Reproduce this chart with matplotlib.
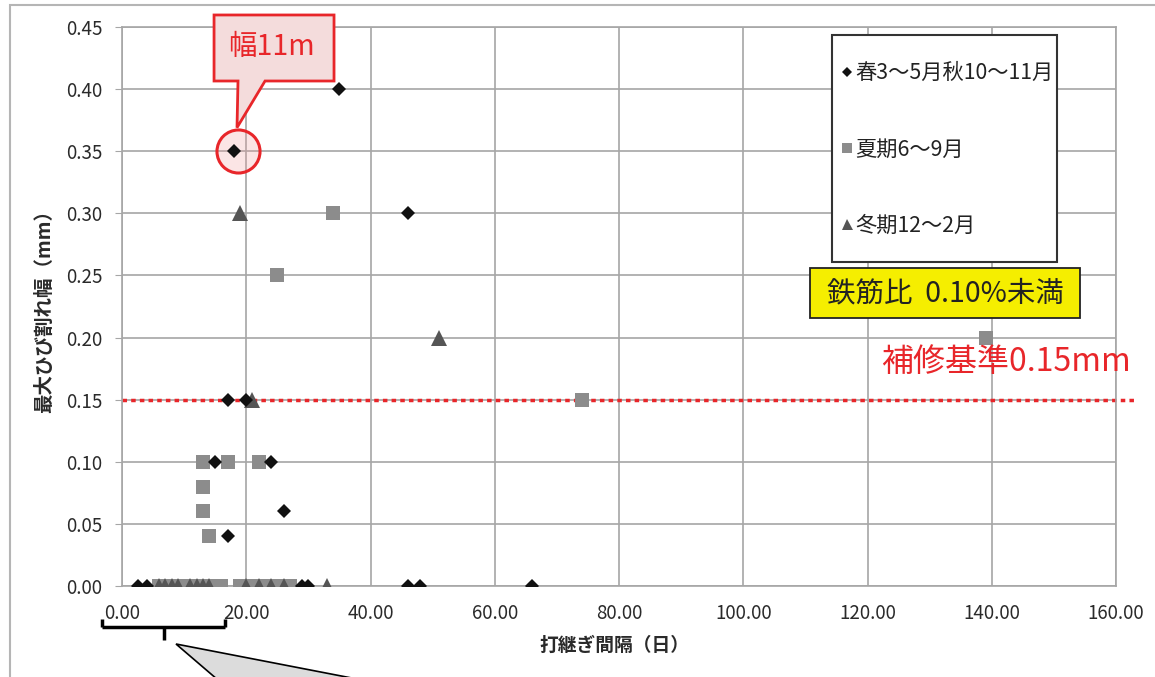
import numpy as np
import matplotlib
matplotlib.use("Agg")
import matplotlib.pyplot as plt
from matplotlib.patches import Rectangle, Polygon
from matplotlib.lines import Line2D

plt.rcParams['font.family'] = ['Noto Sans CJK JP', 'DejaVu Sans']

# 春3〜5月 秋10〜11月
spring_x = [35, 18, 46, 17, 20, 15, 24, 26, 17, 2.5, 4, 29, 30, 46, 48, 66]
spring_y = [0.40, 0.35, 0.30, 0.15, 0.15, 0.10, 0.10, 0.06, 0.04, 0, 0, 0, 0, 0, 0, 0]
# 夏期6〜9月
summer_x = [34, 25, 139, 74, 13, 17, 22, 13, 13, 14, 6, 8, 10, 12, 14, 16, 19, 21, 23, 25, 27]
summer_y = [0.30, 0.25, 0.20, 0.15, 0.10, 0.10, 0.10, 0.08, 0.06, 0.04, 0, 0, 0, 0, 0, 0, 0, 0, 0, 0, 0]
# 冬期12〜2月
winter_x = [19, 51, 21, 6, 7, 8, 9, 11, 12, 13, 14, 20, 22, 24, 26, 33]
winter_y = [0.30, 0.20, 0.15, 0, 0, 0, 0, 0, 0, 0, 0, 0, 0, 0, 0, 0]

labels = ['春3〜5月秋10〜11月', '夏期6〜9月', '冬期12〜2月']
x_ticks = [0, 20, 40, 60, 80, 100, 120, 140, 160]
y_ticks = [0, 0.05, 0.10, 0.15, 0.20, 0.25, 0.30, 0.35, 0.40, 0.45]
threshold = 0.15
highlight = 1  # index in spring series (幅11m)

W, H = 1155, 677
fig = plt.figure(figsize=(W / 100, H / 100), dpi=100)
ax = fig.add_axes([122 / W, 1 - 586 / H, (1116 - 122) / W, (586 - 27) / H])

grid_c = '#a6a6a6'
ax.set_xlim(0, 160)
ax.set_ylim(0, 0.45)
ax.set_xticks(x_ticks)
ax.set_yticks(y_ticks)
ax.set_xticklabels([f'{v:.2f}' for v in x_ticks])
ax.set_yticklabels([f'{v:.2f}' for v in y_ticks])
ax.grid(True, color=grid_c, lw=1.2)
ax.set_axisbelow(True)
for s in ax.spines.values():
    s.set_color(grid_c)
    s.set_linewidth(1.2)
ax.tick_params(axis='x', length=0, pad=12, labelsize=13.5)
ax.tick_params(axis='y', length=5, color=grid_c, pad=9, labelsize=13.5)
for t in ax.get_xticklabels() + ax.get_yticklabels():
    t.set_color('#2a2a2a')

# threshold line
ax.axhline(threshold, xmin=0, xmax=1.018, color='#e8262a', lw=2.5,
           linestyle=(0, (1.3, 1.2)), clip_on=False, zorder=2)

ax.plot(summer_x, summer_y, 's', color='#8c8c8c', ms=10.5, mew=0, ls='none', zorder=3, label=labels[1])
ax.plot(winter_x, winter_y, '^', color='#555555', ms=11, mew=0, ls='none', zorder=4, label=labels[2])
ax.plot(spring_x, spring_y, 'D', color='#111111', ms=7.5, mew=0, ls='none', zorder=6, label=labels[0])

ax.text(0.889, 0.401, '補修基準0.15mm', transform=ax.transAxes, color='#e8262a',
        fontsize=23, ha='center', va='center')

# highlight circle
ax.plot(spring_x[highlight] + 0.6, spring_y[highlight], 'o', ms=31, mfc=(0.95, 0.6, 0.6, 0.25),
        mec='#e8262a', mew=2.2, zorder=5)

# callout box
call = Polygon([(0.0926, 1.0215), (0.2133, 1.0215), (0.2133, 0.9034), (0.1439, 0.9034),
                (0.1157, 0.820), (0.1167, 0.9034), (0.0926, 0.9034)],
               closed=True, transform=ax.transAxes, fc='#f4dcdc', ec='#e8262a', lw=2,
               clip_on=False, zorder=7)
ax.add_patch(call)
ax.text(0.150, 0.965, '幅11m', transform=ax.transAxes, color='#e8262a', fontsize=20.5,
        ha='center', va='center', zorder=8)

# legend box
ax.add_patch(Rectangle((0.714, 0.580), 0.227, 0.406, transform=ax.transAxes, fc='white',
                       ec='#333333', lw=1.5, zorder=7))
handles, labs = ax.get_legend_handles_labels()
order = [2, 0, 1]
leg = ax.legend([handles[i] for i in order], [labs[i] for i in order], loc='upper left',
                bbox_to_anchor=(0.7155, 0.952), frameon=False, fontsize=15.3,
                labelspacing=2.55, handlelength=0.5, handletextpad=0.15, borderaxespad=0,
                markerscale=0.72)
leg.set_zorder(9)
for t in leg.get_texts():
    t.set_color('#222222')

# yellow box
ax.add_patch(Rectangle((0.692, 0.479), 0.272, 0.090, transform=ax.transAxes, fc='#f5ee00',
                       ec='#222222', lw=1.3, zorder=7))
ax.text(0.828, 0.524, '鉄筋比  0.10%未満', transform=ax.transAxes, fontsize=20.5,
        ha='center', va='center', zorder=8, color='#222222')

ax.set_xlabel('打継ぎ間隔（日）', fontsize=13.5, fontweight='bold', color='#2a2a2a')
ax.set_ylabel('最大ひび割れ幅（mm）', fontsize=14, fontweight='bold', color='#2a2a2a', va='center')
ax.xaxis.set_label_coords(0.495, -0.090)
ax.yaxis.set_label_coords(-0.078, 0.5)

# figure frame
fig.add_artist(Rectangle((10 / W, -0.1), 1.2, (H - 5) / H + 0.1, transform=fig.transFigure,
                         fc='none', ec='#b5b5b5', lw=1.5))

# brace under x axis
def fx(px):
    return px / W

def fy(py):
    return 1 - py / H

brace = [((102, 619), (102, 627)), ((102, 627), (225, 627)), ((225, 627), (225, 619)),
         ((164, 627), (164, 640))]
for (a, b) in brace:
    fig.add_artist(Line2D([fx(a[0]), fx(b[0])], [fy(a[1]), fy(b[1])], color='black', lw=2.5,
                          solid_capstyle='butt'))
fig.add_artist(Polygon([(fx(176), fy(644)), (fx(218), fy(680)), (fx(362), fy(680))], closed=True,
                       transform=fig.transFigure, fc='#dcdcdc', ec='black', lw=1.2))

fig.savefig('out.png', dpi=100)
